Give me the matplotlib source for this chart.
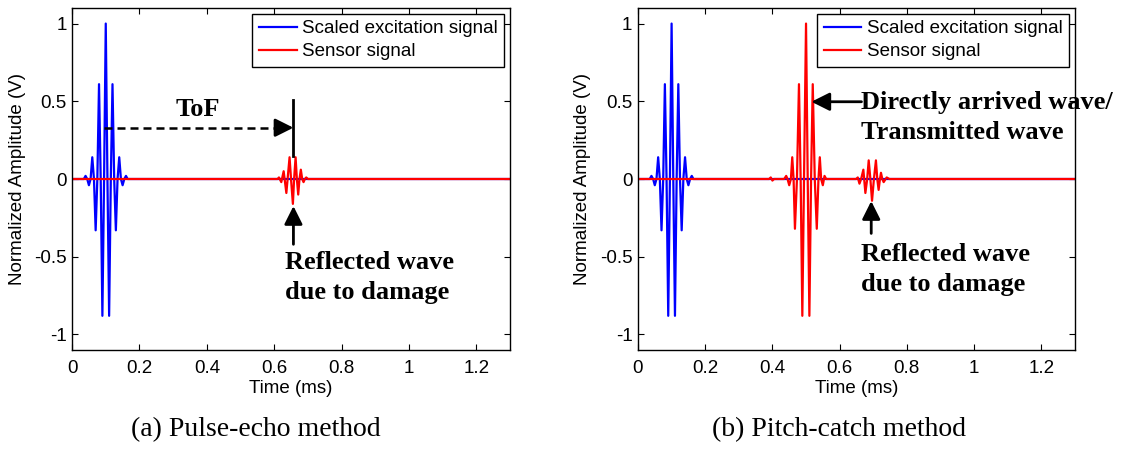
import matplotlib.pyplot as plt
from matplotlib.ticker import FuncFormatter

# excitation burst (same in both panels), time in ms
exc_t = [0, 0.035, 0.04, 0.045, 0.05, 0.055, 0.06, 0.065, 0.07, 0.075, 0.08, 0.085,
         0.09, 0.095, 0.1, 0.105, 0.11, 0.115, 0.12, 0.125, 0.13, 0.135, 0.14, 0.145,
         0.15, 0.155, 0.16, 0.165, 1.3]
exc_v = [0, 0, 0.02, 0, -0.04, 0, 0.14, 0, -0.33, 0, 0.61, 0,
         -0.88, 0, 1.0, 0, -0.88, 0, 0.61, 0, -0.33, 0, 0.14, 0,
         -0.04, 0, 0.02, 0, 0]

# pulse-echo sensor signal: only the echo from the damage
pe_t = [0, 0.61, 0.614, 0.621, 0.628, 0.636, 0.6455, 0.6505, 0.6554, 0.659, 0.6634,
        0.6672, 0.6712, 0.675, 0.679, 0.683, 0.687, 0.691, 0.695, 0.70, 1.3]
pe_v = [0, 0, 0.01, -0.02, 0.05, -0.09, 0.14, -0.02, -0.16, 0.0, 0.14,
        0.0, -0.10, 0.0, 0.06, 0.0, -0.02, 0.0, 0.01, 0, 0]

# pitch-catch sensor signal: direct wave then damage echo
pc_t = [0, 0.39, 0.395, 0.40, 0.405, 0.435, 0.441, 0.445, 0.45, 0.455, 0.459, 0.463, 0.467,
        0.473, 0.479, 0.484, 0.489, 0.494, 0.5, 0.505, 0.51, 0.515, 0.52, 0.526,
        0.532, 0.537, 0.541, 0.545, 0.55, 0.555, 0.56,
        0.649, 0.654, 0.659, 0.664, 0.6706, 0.6766, 0.682, 0.6865, 0.6915, 0.6964,
        0.702, 0.708, 0.712, 0.716, 0.72, 0.723, 0.727, 0.731, 0.74, 0.748, 1.3]
pc_v = [0, 0, 0.01, -0.01, 0, 0, 0.02, 0, -0.04, 0, 0.14, 0, -0.32,
        0, 0.61, 0, -0.88, 0, 1.0, 0, -0.88, 0, 0.61, 0,
        -0.32, 0, 0.14, 0, -0.04, 0.02, 0,
        0, 0.01, -0.03, 0, 0.06, -0.09, 0, 0.12, 0, -0.14,
        0, 0.12, 0, -0.07, 0, 0.04, 0, -0.02, 0.01, 0, 0]

y_ticks = [-1, -0.5, 0, 0.5, 1]
x_ticks = [0, 0.2, 0.4, 0.6, 0.8, 1, 1.2]

plt.rcParams['font.family'] = ['Liberation Sans', 'DejaVu Sans']
plt.rcParams['font.size'] = 13.5
serif = 'Liberation Serif'

fig = plt.figure(figsize=(11.26, 4.74), dpi=100)


def panel(rect, sensor_t, sensor_v):
    ax = fig.add_axes(rect)
    ax.plot(exc_t, exc_v, color='#0000ff', lw=1.6, label='Scaled excitation signal')
    ax.plot(sensor_t, sensor_v, color='#ff0000', lw=1.6, label='Sensor signal')
    ax.set_xlim(0, 1.3)
    ax.set_ylim(-1.1, 1.1)
    ax.set_xticks(x_ticks)
    ax.set_yticks(y_ticks)
    fmt = FuncFormatter(lambda v, p: '%g' % v)
    ax.xaxis.set_major_formatter(fmt)
    ax.yaxis.set_major_formatter(fmt)
    ax.tick_params(direction='in', top=True, right=True, length=4, width=0.8)
    ax.tick_params(axis='x', pad=7)
    ax.tick_params(axis='y', pad=4)
    for s in ax.spines.values():
        s.set_linewidth(1.0)
    ax.set_xlabel('Time (ms)', labelpad=2)
    ax.set_ylabel('Normalized Amplitude (V)', labelpad=6)
    leg = ax.legend(loc='upper right', fancybox=False, edgecolor='k', framealpha=1,
                    borderaxespad=0.3, handlelength=2.0, handletextpad=0.3,
                    labelspacing=0.3, borderpad=0.35)
    leg.get_frame().set_linewidth(1.0)
    return ax


def arrow(ax, tip, tail):
    ax.annotate('', xy=tip, xytext=tail,
                arrowprops=dict(arrowstyle='-|>,head_length=0.5,head_width=0.25',
                                color='k', lw=2, mutation_scale=22,
                                shrinkA=0, shrinkB=0), annotation_clip=False)


bold = dict(family=serif, fontweight='bold', fontsize=19, linespacing=1.4)

# (a) pulse-echo
ax_a = panel([0.064, 0.2616, 0.389, 0.7215], pe_t, pe_v)
ax_a.plot([0.096, 0.62], [0.33, 0.33], color='k', lw=1.8, dashes=(3.2, 2.0))
arrow(ax_a, (0.657, 0.33), (0.615, 0.33))
ax_a.plot([0.657, 0.657], [0.51, 0.15], color='k', lw=2)
ax_a.text(0.374, 0.445, 'ToF', ha='center', va='center', **bold)
arrow(ax_a, (0.657, -0.174), (0.657, -0.42))
ax_a.text(0.633, -0.46, 'Reflected wave\ndue to damage', ha='left', va='top', **bold)

# (b) pitch-catch
ax_b = panel([0.5666, 0.2616, 0.388, 0.7215], pc_t, pc_v)
arrow(ax_b, (0.516, 0.497), (0.665, 0.497))
ax_b.text(0.665, 0.565, 'Directly arrived wave/\nTransmitted wave', ha='left', va='top',
          clip_on=False, **bold)
arrow(ax_b, (0.694, -0.142), (0.694, -0.35))
ax_b.text(0.665, -0.41, 'Reflected wave\ndue to damage', ha='left', va='top', **bold)

fig.text(0.227, 0.093, '(a) Pulse-echo method', ha='center', va='center',
         family=serif, fontsize=20)
fig.text(0.745, 0.093, '(b) Pitch-catch method', ha='center', va='center',
         family=serif, fontsize=20)

fig.savefig('out.png', dpi=100)
